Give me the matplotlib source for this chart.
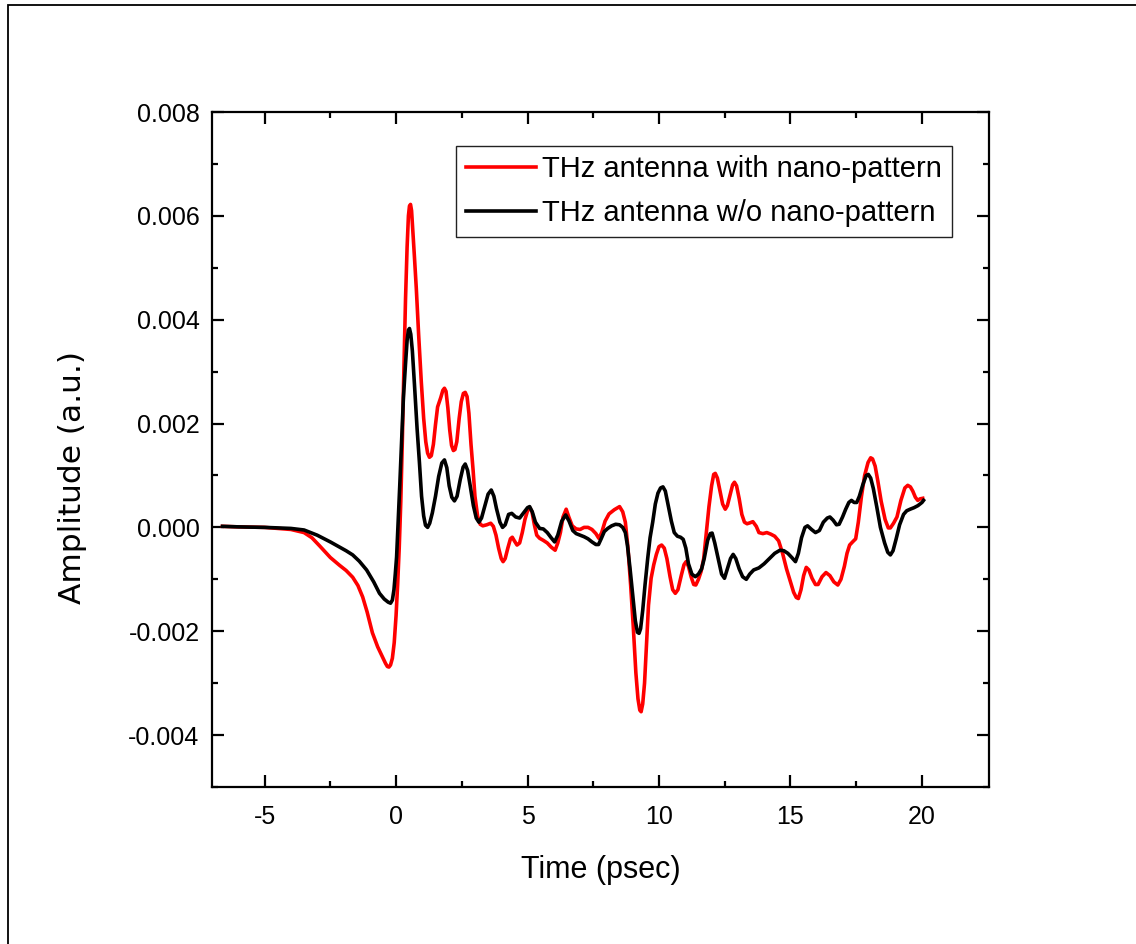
import numpy as np
import matplotlib
matplotlib.use("Agg")
import matplotlib.pyplot as plt
from matplotlib.patches import Rectangle

# time axis (psec) and amplitude (a.u.)
t_with = [-6.6, -6.0, -5.0, -4.5, -4.0, -3.5, -3.2, -2.9, -2.5, -2.15, -1.9, -1.65, -1.45,
          -1.27, -1.1, -0.9, -0.7, -0.51, -0.4, -0.33, -0.27, -0.21, -0.14, -0.07, 0.0, 0.06,
          0.12, 0.18, 0.24, 0.3, 0.36, 0.42, 0.47, 0.51, 0.55, 0.59, 0.64, 0.7, 0.77, 0.86,
          0.96, 1.05, 1.13, 1.2, 1.27, 1.34, 1.42, 1.5, 1.58, 1.7, 1.78, 1.84, 1.9, 1.97,
          2.04, 2.11, 2.18, 2.24, 2.31, 2.4, 2.48, 2.56, 2.63, 2.7, 2.77, 2.85, 2.93, 3.0,
          3.1, 3.2, 3.3, 3.45, 3.6, 3.7, 3.8, 3.9, 4.0, 4.07, 4.15, 4.25, 4.35, 4.42, 4.5,
          4.6, 4.7, 4.8, 4.9, 5.0, 5.08, 5.17, 5.26, 5.35, 5.46, 5.6, 5.75, 5.9, 6.05, 6.15,
          6.25, 6.35, 6.47, 6.57, 6.7, 6.85, 7.0, 7.15, 7.3, 7.45, 7.6, 7.71, 7.82, 7.95,
          8.1, 8.3, 8.5, 8.62, 8.72, 8.82, 8.92, 9.02, 9.12, 9.2, 9.27, 9.32, 9.38, 9.45,
          9.52, 9.6, 9.7, 9.8, 9.9, 10.0, 10.1, 10.2, 10.3, 10.42, 10.52, 10.62, 10.72,
          10.85, 10.95, 11.03, 11.12, 11.22, 11.32, 11.4, 11.5, 11.6, 11.7, 11.8, 11.9,
          12.0, 12.08, 12.14, 12.22, 12.32, 12.42, 12.52, 12.6, 12.7, 12.8, 12.87, 12.95,
          13.05, 13.15, 13.25, 13.35, 13.47, 13.57, 13.7, 13.8, 13.95, 14.1, 14.25, 14.4,
          14.55, 14.7, 14.85, 15.0, 15.12, 15.22, 15.3, 15.4, 15.5, 15.6, 15.7, 15.82,
          15.95, 16.05, 16.2, 16.35, 16.5, 16.65, 16.8, 16.92, 17.05, 17.15, 17.25, 17.38,
          17.48, 17.58, 17.7, 17.82, 17.95, 18.05, 18.12, 18.22, 18.32, 18.45, 18.6, 18.72,
          18.8, 18.92, 19.05, 19.2, 19.35, 19.46, 19.56, 19.65, 19.75, 19.84, 19.93, 20.03]
amp_with = [0.00002, 0.00001, 0.0, -0.00002, -0.00004, -0.0001, -0.0002, -0.00036, -0.00058,
            -0.00073, -0.00083, -0.00096, -0.00112, -0.00134, -0.00163, -0.00203, -0.0023,
            -0.0025, -0.00262, -0.00268, -0.00269, -0.00265, -0.00252, -0.00222, -0.0017,
            -0.0011, -0.0004, 0.0005, 0.0017, 0.0031, 0.0044, 0.0054, 0.006, 0.00619, 0.00622,
            0.0061, 0.0057, 0.0052, 0.0046, 0.0037, 0.0028, 0.0021, 0.00165, 0.00143, 0.00135,
            0.00138, 0.0016, 0.00198, 0.00232, 0.0025, 0.00264, 0.00268, 0.00262, 0.0023,
            0.00188, 0.00158, 0.00148, 0.0015, 0.00165, 0.0021, 0.00242, 0.00258, 0.0026,
            0.00252, 0.0022, 0.0016, 0.0011, 0.0006, 0.00022, 0.00006, 0.00003, 0.00005,
            0.00008, 0.00002, -0.00015, -0.0004, -0.0006, -0.00066, -0.0006, -0.0004,
            -0.00022, -0.00019, -0.00026, -0.00034, -0.0003, -0.0001, 0.00015, 0.00032,
            0.00038, 0.0003, 0.00005, -0.00015, -0.00021, -0.00025, -0.0003, -0.00038,
            -0.00044, -0.0003, -0.0001, 0.0002, 0.00035, 0.0002, 0.00003, -0.00003, -0.00004,
            0.0, 0.0, -0.00004, -0.00012, -0.00021, -0.0001, 0.00012, 0.00026, 0.00034,
            0.0004, 0.0003, 0.0001, -0.0004, -0.0011, -0.0019, -0.0028, -0.0033, -0.00352,
            -0.00355, -0.0034, -0.003, -0.0023, -0.0015, -0.00098, -0.00072, -0.00052,
            -0.00037, -0.00034, -0.0004, -0.0006, -0.00095, -0.0012, -0.00127, -0.0012,
            -0.00092, -0.00072, -0.00066, -0.00075, -0.00095, -0.0011, -0.00111, -0.001,
            -0.00085, -0.0006, -0.0001, 0.0004, 0.0008, 0.00102, 0.00104, 0.00095, 0.0007,
            0.00045, 0.00035, 0.00042, 0.00062, 0.00082, 0.00087, 0.0008, 0.00055, 0.00025,
            0.0001, 0.00007, 0.00009, 0.00011, 0.00002, -0.0001, -0.00012, -0.0001, -0.00013,
            -0.00017, -0.00026, -0.0005, -0.0008, -0.00105, -0.00125, -0.00135, -0.00137,
            -0.0012, -0.00093, -0.00077, -0.00082, -0.00098, -0.0011, -0.0011, -0.00095,
            -0.00087, -0.00093, -0.00105, -0.00111, -0.001, -0.00075, -0.0005, -0.00034,
            -0.00027, -0.00022, 0.0001, 0.0006, 0.001, 0.00125, 0.00134, 0.00132, 0.00118,
            0.0009, 0.0005, 0.00015, -0.00001, -0.00001, 0.00008, 0.0002, 0.00052, 0.00076,
            0.00081, 0.00078, 0.0007, 0.00058, 0.00052, 0.00055, 0.00056]

t_without = [-6.6, -6.0, -5.0, -4.0, -3.5, -3.0, -2.5, -2.15, -1.9, -1.65, -1.4, -1.12, -0.85,
             -0.63, -0.45, -0.3, -0.21, -0.14, -0.08, -0.03, 0.02, 0.08, 0.14, 0.2, 0.28, 0.36,
             0.42, 0.47, 0.51, 0.56, 0.62, 0.7, 0.8, 0.89, 0.97, 1.05, 1.12, 1.2, 1.28, 1.38,
             1.5, 1.62, 1.74, 1.84, 1.93, 2.02, 2.12, 2.22, 2.32, 2.44, 2.55, 2.63, 2.72, 2.82,
             2.94, 3.05, 3.15, 3.25, 3.38, 3.5, 3.62, 3.72, 3.82, 3.95, 4.05, 4.15, 4.28, 4.4,
             4.55, 4.7, 4.85, 5.0, 5.08, 5.18, 5.3, 5.46, 5.6, 5.75, 5.9, 6.03, 6.15, 6.3, 6.45,
             6.58, 6.72, 6.85, 7.0, 7.15, 7.3, 7.45, 7.6, 7.7, 7.8, 7.92, 8.05, 8.2, 8.35, 8.5,
             8.62, 8.72, 8.8, 8.9, 9.0, 9.1, 9.18, 9.24, 9.3, 9.38, 9.47, 9.57, 9.66, 9.76,
             9.86, 9.96, 10.06, 10.15, 10.24, 10.35, 10.47, 10.58, 10.7, 10.82, 10.92, 11.02,
             11.12, 11.25, 11.38, 11.5, 11.62, 11.72, 11.85, 11.95, 12.02, 12.12, 12.25, 12.38,
             12.49, 12.6, 12.72, 12.82, 12.92, 13.05, 13.18, 13.32, 13.45, 13.6, 13.8, 14.0,
             14.2, 14.4, 14.6, 14.75, 14.9, 15.05, 15.19, 15.3, 15.42, 15.55, 15.65, 15.8,
             15.95, 16.1, 16.25, 16.4, 16.5, 16.62, 16.75, 16.85, 16.98, 17.1, 17.22, 17.32,
             17.42, 17.52, 17.62, 17.75, 17.88, 17.96, 18.05, 18.15, 18.28, 18.42, 18.58, 18.7,
             18.8, 18.9, 19.02, 19.15, 19.3, 19.42, 19.55, 19.7, 19.85, 20.0, 20.06]
amp_without = [0.00002, 0.00001, 0.0, -0.00002, -0.00005, -0.00015, -0.00028, -0.00038,
               -0.00045, -0.00053, -0.00065, -0.00082, -0.00105, -0.00127, -0.00138, -0.00144,
               -0.00146, -0.0014, -0.0012, -0.0009, -0.00057, 0.0001, 0.0008, 0.00155, 0.0025,
               0.00315, 0.0036, 0.0038, 0.00383, 0.00372, 0.0034, 0.00275, 0.0019, 0.00124,
               0.0006, 0.00022, 0.00004, 0.0, 0.00008, 0.00028, 0.0006, 0.00098, 0.00124,
               0.0013, 0.00115, 0.0008, 0.00058, 0.00051, 0.0006, 0.00092, 0.00116, 0.00122,
               0.0011, 0.0008, 0.00042, 0.00018, 0.0001, 0.00018, 0.00042, 0.00064, 0.00072,
               0.0006, 0.00036, 0.0001, 0.0, 0.00005, 0.00025, 0.00027, 0.0002, 0.00018, 0.00028,
               0.00038, 0.0004, 0.0003, 0.0001, -0.00002, -0.00003, -0.0001, -0.0002, -0.00028,
               -0.00015, 0.00012, 0.00024, 0.00012, -0.00006, -0.00012, -0.00015, -0.00018,
               -0.00022, -0.00028, -0.00033, -0.00033, -0.00022, -0.00008, -0.00002, 0.00003,
               0.00006, 0.00005, 0.0, -0.0001, -0.00035, -0.0008, -0.0013, -0.0018, -0.00202,
               -0.00204, -0.00195, -0.0016, -0.0011, -0.0006, -0.0002, 0.0001, 0.00045, 0.00066,
               0.00076, 0.00078, 0.0007, 0.00042, 0.00012, -0.0001, -0.00017, -0.00019, -0.00023,
               -0.0004, -0.0007, -0.0009, -0.00095, -0.0009, -0.0008, -0.0006, -0.00025,
               -0.00012, -0.00011, -0.0003, -0.0006, -0.0009, -0.00098, -0.0008, -0.0006,
               -0.00052, -0.0006, -0.0008, -0.00095, -0.001, -0.0009, -0.00082, -0.00078,
               -0.0007, -0.0006, -0.0005, -0.00044, -0.00045, -0.0005, -0.00058, -0.00066,
               -0.0005, -0.0002, 0.0, 0.00003, -0.00004, -0.0001, -0.00006, 0.0001, 0.00018,
               0.0002, 0.00014, 0.00005, 0.00006, 0.0002, 0.00035, 0.00048, 0.00052, 0.00048,
               0.00048, 0.0006, 0.00082, 0.001, 0.00102, 0.00095, 0.00075, 0.0004, 0.0, -0.0003,
               -0.00048, -0.00053, -0.00045, -0.00022, 0.00005, 0.00025, 0.00032, 0.00035,
               0.00038, 0.00042, 0.00048, 0.00052]

labels = ["THz antenna with nano-pattern", "THz antenna w/o nano-pattern"]
x_ticks = [-5, 0, 5, 10, 15, 20]
y_ticks = [-0.004, -0.002, 0.000, 0.002, 0.004, 0.006, 0.008]

plt.rcParams['font.family'] = ['Liberation Sans', 'DejaVu Sans']

fig = plt.figure(figsize=(11.36, 9.44), dpi=100)
ax = fig.add_axes([212 / 1136, 1 - 787 / 944, 777 / 1136, 675 / 944])

ax.plot(t_with, amp_with, color='#ff0000', lw=2.6, label=labels[0],
        solid_joinstyle='round')
ax.plot(t_without, amp_without, color='black', lw=2.6, label=labels[1],
        solid_joinstyle='round')

ax.set_xlim(-7, 22.55)
ax.set_ylim(-0.005, 0.008)
ax.set_xticks(x_ticks)
ax.set_xticklabels([str(v) for v in x_ticks])
ax.set_xticks(np.arange(-2.5, 22.5, 5), minor=True)
ax.set_yticks(y_ticks)
ax.set_yticklabels(["%.3f" % v for v in y_ticks])
ax.set_yticks(np.arange(-0.005, 0.008, 0.002), minor=True)

for s in ax.spines.values():
    s.set_linewidth(1.6)
ax.tick_params(which='both', direction='in', top=True, right=True, width=1.6)
ax.tick_params(which='major', length=8.5, labelsize=18)
ax.tick_params(axis='y', which='major', pad=9)
ax.tick_params(axis='x', which='major', pad=13)
ax.tick_params(which='minor', length=4.5)

ax.set_xlabel("Time (psec)", fontsize=22, va='center')
ax.xaxis.set_label_coords(0.5, -0.123)
ax.set_ylabel("Amplitude (a.u.)", fontsize=22.5, va='center', family='DejaVu Sans')
ax.yaxis.set_label_coords(-0.179, 0.458)

leg = ax.legend(loc='upper right', bbox_to_anchor=(0.952, 0.95), borderaxespad=0,
                prop={'family': 'Liberation Sans', 'size': 21}, handlelength=2.4,
                handletextpad=0.22, labelspacing=0.55, borderpad=0.33,
                fancybox=False, framealpha=1)
leg.get_frame().set_edgecolor('#222222')
leg.get_frame().set_linewidth(1.0)

# outer frame of the original page
fig.add_artist(Rectangle((8 / 1136, -0.1), 1.2, 1.1 - 5 / 944, transform=fig.transFigure,
                         fill=False, lw=1.3, edgecolor='black'))

fig.savefig("out.png", dpi=100)
